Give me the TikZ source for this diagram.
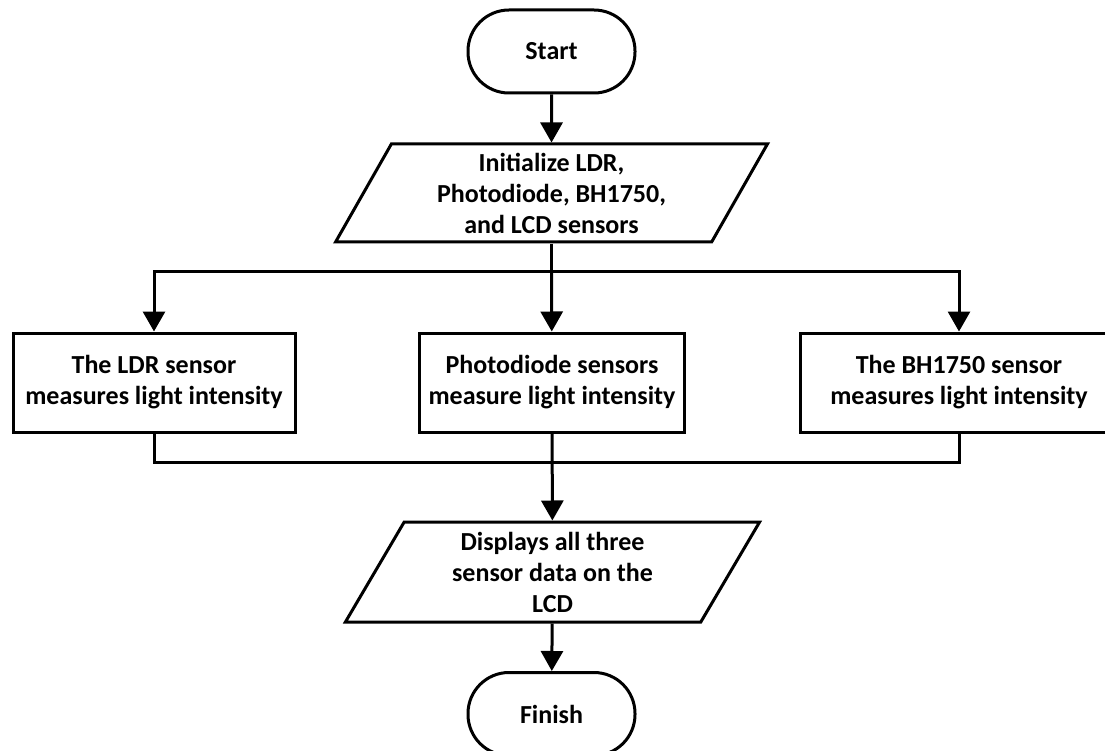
\documentclass[tikz,border=0pt]{standalone}
\usepackage{fontspec}
\setmainfont{Carlito}
\usetikzlibrary{arrows.meta,shapes.geometric}

\begin{document}
\begin{tikzpicture}[yscale=-1
,termstyle/.style={draw=black,line width=3pt,rounded corners=41pt,minimum width=167pt,minimum height=83pt,font=\bfseries\fontsize{26}{31}\selectfont}
,iostyle/.style={draw=black,line width=3pt,trapezium,trapezium left angle=64,trapezium right angle=116,trapezium stretches=true,inner sep=1pt,align=center,font=\bfseries\fontsize{26}{31}\selectfont}
,procstyle/.style={draw=black,line width=3pt,minimum height=99pt,align=center,font=\bfseries\fontsize{26}{31}\selectfont}
,linestyle/.style={color=black,line width=3pt}
,arrowstyle/.style={linestyle,-{Triangle[width=22pt,length=20pt]}}
]
\useasboundingbox (0pt,0pt) rectangle (1105pt,751pt);
\node[termstyle] (start) at (551.5pt,51.5pt) {Start};
\node[iostyle,minimum width=433pt,minimum height=98pt] (init) at (551.5pt,193pt) {Initialize LDR,\\Photodiode, BH1750,\\and LCD sensors};
\coordinate (split) at (551.5pt,272pt);
\node[procstyle,minimum width=282pt] (ldr) at (154pt,382.5pt) {The LDR sensor\\measures light intensity};
\node[procstyle,minimum width=265pt] (pd) at (552pt,382.5pt) {Photodiode sensors\\measure light intensity};
\node[procstyle,minimum width=318pt] (bh) at (959pt,382.5pt) {The BH1750 sensor\\measures light intensity};
\coordinate (merge) at (552pt,462pt);
\node[iostyle,minimum width=415pt,minimum height=100pt] (disp) at (552.5pt,572pt) {Displays all three\\sensor data on the\\LCD};
\node[termstyle] (finish) at (551.5pt,714pt) {Finish};
\draw[arrowstyle] (start) -- (init);
\draw[linestyle] (init) -- (split);
\draw[arrowstyle] (split) -| (ldr);
\draw[arrowstyle] (split) -- (pd);
\draw[arrowstyle] (split) -| (bh);
\draw[linestyle] (ldr) |- (merge);
\draw[linestyle] (bh) |- (merge);
\draw[arrowstyle] (pd) -- (disp);
\draw[arrowstyle] (disp) -- (finish);
\end{tikzpicture}
\end{document}
